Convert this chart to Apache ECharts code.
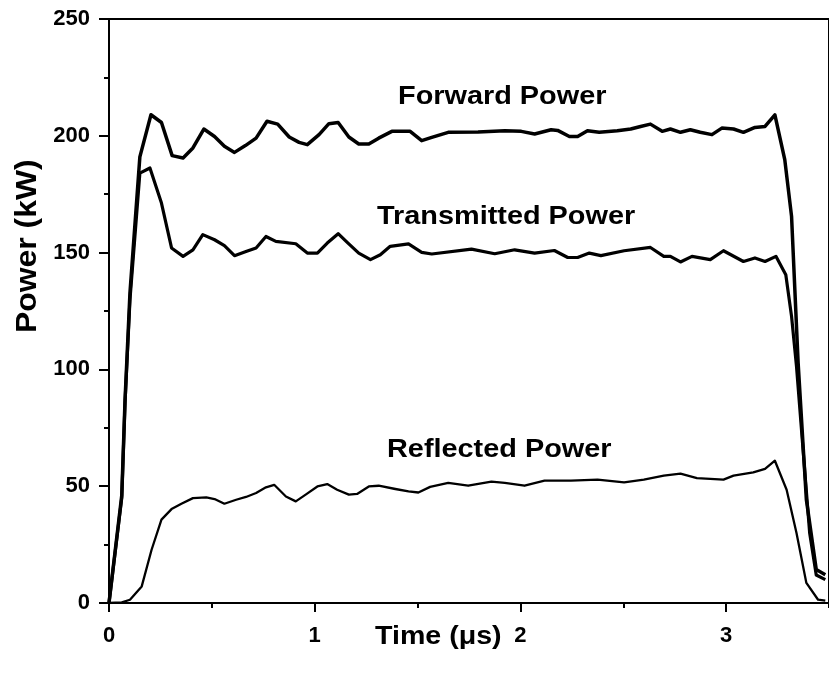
<!DOCTYPE html>
<html>
<head>
<meta charset="utf-8">
<script src="https://cdn.jsdelivr.net/npm/echarts@6/dist/echarts.min.js"></script>
<style>
html,body{margin:0;padding:0;background:#fff;}
#chart{width:829px;height:679px;}
</style>
</head>
<body>
<div id="chart"></div>
<script>
// ---- data ----
const forwardT = [0, 0.062, 0.078, 0.102, 0.15, 0.204, 0.255, 0.307, 0.36, 0.408, 0.461, 0.513, 0.561, 0.61, 0.663, 0.715, 0.768, 0.82, 0.876, 0.924, 0.964, 1.021, 1.069, 1.114, 1.166, 1.214, 1.263, 1.311, 1.375, 1.464, 1.52, 1.569, 1.649, 1.794, 1.924, 2.004, 2.069, 2.149, 2.181, 2.238, 2.278, 2.326, 2.383, 2.471, 2.536, 2.584, 2.632, 2.689, 2.729, 2.778, 2.826, 2.874, 2.931, 2.979, 3.036, 3.084, 3.14, 3.189, 3.237, 3.285, 3.318, 3.35, 3.39, 3.438, 3.482];
const forwardP = [0, 46, 87, 133, 191, 209, 205.7, 191.5, 190.5, 194.8, 202.9, 199.7, 195.5, 192.9, 195.8, 199, 206.2, 205, 199.5, 197.2, 196.2, 200.5, 205.2, 205.7, 199.5, 196.5, 196.5, 199, 201.9, 201.9, 197.9, 199.3, 201.5, 201.6, 202.2, 201.9, 200.8, 202.6, 202.3, 199.7, 199.7, 202.2, 201.5, 202.2, 202.9, 204, 205, 201.9, 202.9, 201.5, 202.6, 201.5, 200.5, 203.3, 202.9, 201.5, 203.6, 204, 209, 189.8, 165.5, 102.7, 44.2, 14.3, 12.1];

const transT = [0, 0.062, 0.078, 0.102, 0.15, 0.199, 0.255, 0.304, 0.36, 0.408, 0.456, 0.513, 0.561, 0.61, 0.666, 0.715, 0.763, 0.811, 0.908, 0.964, 1.013, 1.061, 1.114, 1.158, 1.214, 1.271, 1.319, 1.367, 1.456, 1.52, 1.569, 1.762, 1.875, 1.972, 2.069, 2.165, 2.23, 2.278, 2.335, 2.391, 2.504, 2.632, 2.697, 2.729, 2.778, 2.834, 2.923, 2.987, 3.084, 3.14, 3.189, 3.242, 3.29, 3.318, 3.342, 3.374, 3.406, 3.438, 3.482];
const transP = [0, 45, 86, 130, 184, 186.2, 171.2, 152, 148.4, 151.2, 157.7, 155.5, 153, 148.7, 150.5, 152, 156.9, 154.8, 153.8, 149.8, 149.8, 154.1, 158.1, 154.4, 149.8, 147, 149.1, 152.7, 153.7, 150.1, 149.4, 151.5, 149.5, 151.2, 149.8, 150.9, 147.9, 147.9, 149.8, 148.7, 150.8, 152.2, 148.4, 148.4, 146, 148.4, 147, 150.8, 146.2, 147.7, 146.2, 148.4, 140.5, 122.7, 101.3, 65.6, 30, 12, 10];

const reflT = [0, 0.062, 0.102, 0.159, 0.207, 0.255, 0.304, 0.352, 0.408, 0.473, 0.513, 0.561, 0.618, 0.666, 0.715, 0.763, 0.803, 0.86, 0.908, 0.956, 1.013, 1.061, 1.109, 1.166, 1.206, 1.263, 1.311, 1.392, 1.456, 1.504, 1.561, 1.649, 1.746, 1.859, 1.924, 2.02, 2.117, 2.246, 2.375, 2.504, 2.6, 2.697, 2.778, 2.858, 2.987, 3.036, 3.132, 3.189, 3.237, 3.294, 3.342, 3.39, 3.447, 3.482];
const reflP = [0, 0.3, 1.4, 7.1, 22.8, 35.7, 40.2, 42.5, 44.9, 45.2, 44.5, 42.5, 44.2, 45.4, 47.1, 49.5, 50.6, 45.6, 43.5, 46.4, 49.9, 50.9, 48.5, 46.4, 46.7, 49.9, 50.2, 48.8, 47.8, 47.3, 49.7, 51.4, 50.2, 52, 51.4, 50.2, 52.4, 52.4, 52.8, 51.6, 52.8, 54.5, 55.4, 53.5, 52.8, 54.5, 55.9, 57.4, 60.9, 48.5, 30, 8.6, 1.4, 1];

const seriesNames = ['Forward Power', 'Transmitted Power', 'Reflected Power'];
const xTitle = 'Time (\u03bcs)';
const yTitle = 'Power (kW)';

function pairs(t, p) { return t.map((v, i) => [v, p[i]]); }

const FONT = '"Liberation Sans", Arial, Helvetica, sans-serif';
const chart = echarts.init(document.getElementById('chart'), null, {renderer: 'canvas'});

const option = {
  animation: false,
  backgroundColor: '#fff',
  grid: {left: 109, right: -4, top: 19, bottom: 76, show: true, borderColor: '#000', borderWidth: 2, backgroundColor: 'transparent'},
  xAxis: [{
    type: 'value', min: 0, max: 3.5, interval: 1,
    axisLine: {show: true, onZero: false, lineStyle: {color: '#000', width: 2}},
    axisTick: {show: true, length: 9, lineStyle: {color: '#000', width: 2}},
    axisLabel: {color: '#000', fontFamily: FONT, fontWeight: 'bold', fontSize: 22, margin: 22, showMaxLabel: false},
    splitLine: {show: false}
  }, {
    type: 'value', min: 0, max: 3.5, interval: 0.5, position: 'bottom',
    axisLine: {show: false},
    axisTick: {show: true, length: 5, lineStyle: {color: '#000', width: 2}},
    axisLabel: {show: false},
    splitLine: {show: false}
  }],
  yAxis: {
    type: 'value', min: 0, max: 250, interval: 50,
    axisLine: {show: true, onZero: false, lineStyle: {color: '#000', width: 2}},
    axisTick: {show: true, length: 10, lineStyle: {color: '#000', width: 2}},
    minorTick: {show: true, splitNumber: 2, length: 5, lineStyle: {color: '#000', width: 2}},
    axisLabel: {color: '#000', fontFamily: FONT, fontWeight: 'bold', fontSize: 22, margin: 19},
    splitLine: {show: false}, minorSplitLine: {show: false}
  },
  series: [
    {name: seriesNames[0], type: 'line', xAxisIndex: 0, data: pairs(forwardT, forwardP), showSymbol: false, symbol: 'none', lineStyle: {color: '#000', width: 3.5, join: 'round'}},
    {name: seriesNames[1], type: 'line', xAxisIndex: 0, data: pairs(transT, transP), showSymbol: false, symbol: 'none', lineStyle: {color: '#000', width: 3.2, join: 'round'}},
    {name: seriesNames[2], type: 'line', xAxisIndex: 0, data: pairs(reflT, reflP), showSymbol: false, symbol: 'none', lineStyle: {color: '#000', width: 2.3, join: 'round'}}
  ],
  graphic: [
    {type: 'text', left: 398, top: 84, scaleX: 1.11, style: {text: seriesNames[0], font: 'bold 26px ' + FONT, fill: '#000'}},
    {type: 'text', left: 377, top: 204, scaleX: 1.11, style: {text: seriesNames[1], font: 'bold 26px ' + FONT, fill: '#000'}},
    {type: 'text', left: 387, top: 437, scaleX: 1.11, style: {text: seriesNames[2], font: 'bold 26px ' + FONT, fill: '#000'}},
    {type: 'text', left: 375, top: 624, scaleX: 1.1, style: {text: xTitle, font: 'bold 26px ' + FONT, fill: '#000'}},
    {type: 'text', x: 13, y: 333, rotation: Math.PI / 2, scaleX: 1.1,
     style: {text: yTitle, font: 'bold 29px ' + FONT, fill: '#000', textAlign: 'left', textVerticalAlign: 'top'}}
  ]
};
chart.setOption(option);
</script>
</body>
</html>
